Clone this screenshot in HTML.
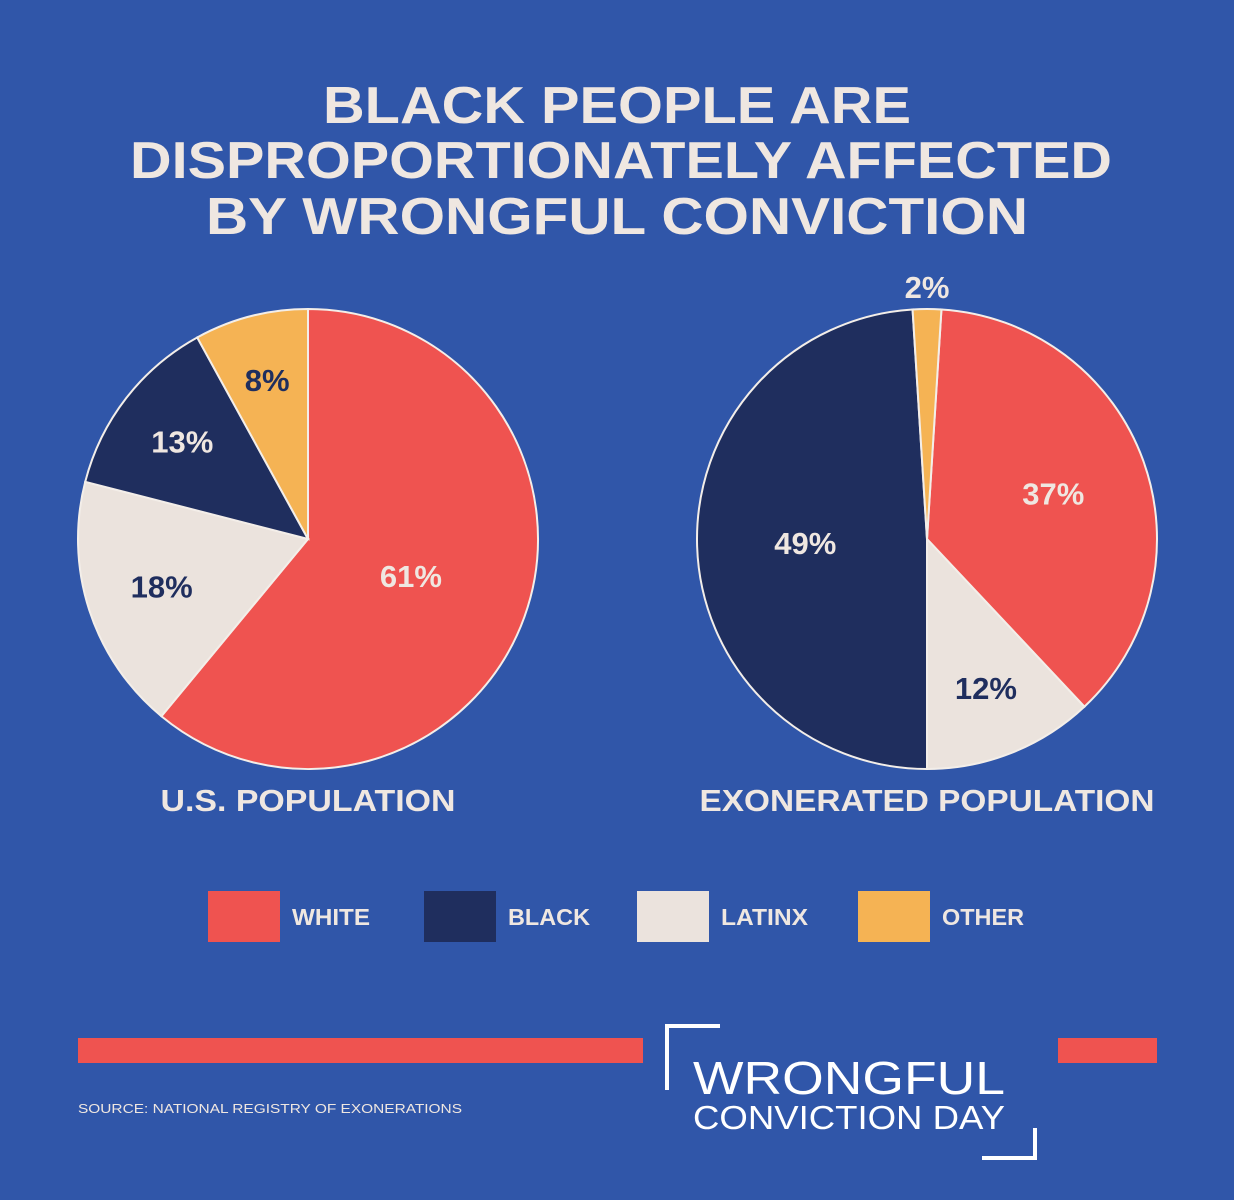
<!DOCTYPE html>
<html><head><meta charset="utf-8"><style>
html,body{margin:0;padding:0;background:#3056a9;}
svg{display:block;font-family:"Liberation Sans",sans-serif;}
</style></head><body>
<svg id="chart" width="1234" height="1200" viewBox="0 0 1234 1200" xmlns="http://www.w3.org/2000/svg">
<rect width="1234" height="1200" fill="#3056a9"/>
<g fill="#efe7e1" font-weight="bold" font-size="52" text-anchor="middle">
<text x="617" y="123" textLength="588" lengthAdjust="spacingAndGlyphs">BLACK PEOPLE ARE</text>
<text x="621" y="178" textLength="982" lengthAdjust="spacingAndGlyphs">DISPROPORTIONATELY AFFECTED</text>
<text x="617" y="234" textLength="822" lengthAdjust="spacingAndGlyphs">BY WRONGFUL CONVICTION</text>
</g>
<g id="pies"></g>
<g font-weight="bold" font-size="23" fill="#efe7e1">
<rect x="208" y="891" width="72" height="51" fill="#ef5350"/>
<text x="292" y="925" textLength="78" lengthAdjust="spacingAndGlyphs">WHITE</text>
<rect x="424" y="891" width="72" height="51" fill="#1f2e5e"/>
<text x="508" y="925" textLength="82" lengthAdjust="spacingAndGlyphs">BLACK</text>
<rect x="637" y="891" width="72" height="51" fill="#ebe3dd"/>
<text x="721" y="925" textLength="87" lengthAdjust="spacingAndGlyphs">LATINX</text>
<rect x="858" y="891" width="72" height="51" fill="#f5b354"/>
<text x="942" y="925" textLength="82" lengthAdjust="spacingAndGlyphs">OTHER</text>
</g>
<rect x="78" y="1038" width="565" height="25" fill="#ef5350"/>
<rect x="1058" y="1038" width="99" height="25" fill="#ef5350"/>
<text x="78" y="1113" font-size="13" fill="#efe7e1" textLength="384" lengthAdjust="spacingAndGlyphs">SOURCE: NATIONAL REGISTRY OF EXONERATIONS</text>
<g fill="#ffffff" stroke="none">
<path d="M667 1090 V1026 H720" fill="none" stroke="#fff" stroke-width="4"/>
<path d="M982 1158 H1035 V1128" fill="none" stroke="#fff" stroke-width="4"/>
<text x="693" y="1094" font-size="46" textLength="312" lengthAdjust="spacingAndGlyphs">WRONGFUL</text>
<text x="693" y="1129" font-size="33" textLength="312" lengthAdjust="spacingAndGlyphs">CONVICTION DAY</text>
</g>
</svg>
<script>
const categories = ["WHITE","LATINX","BLACK","OTHER"];
const colors = {"WHITE":"#ef5350","LATINX":"#ebe3dd","BLACK":"#1f2e5e","OTHER":"#f5b354"};
const labelColors = {"WHITE":"#efe7e1","LATINX":"#1f2e5e","BLACK":"#efe7e1","OTHER":"#1f2e5e"};
const pieTitles = ["U.S. POPULATION","EXONERATED POPULATION"];
const usValues = [61,18,13,8];
const exValues = [37,12,49,2];
const startOffsets = [0,1];
const NS = "http://www.w3.org/2000/svg";
const g = document.getElementById("pies");
const pies = [
 {vals:usValues, cx:308, cy:539, r:230, start:startOffsets[0], title:pieTitles[0], key:"us", tw:295},
 {vals:exValues, cx:927, cy:539, r:230, start:startOffsets[1], title:pieTitles[1], key:"exonerated", tw:455}
];
function pt(cx,cy,r,pct){const a=pct/100*2*Math.PI;return [cx+r*Math.sin(a),cy-r*Math.cos(a)];}
pies.forEach(p=>{
 const grp=document.createElementNS(NS,"g");
 
 
 g.appendChild(grp);
 const total=p.vals.reduce((a,b)=>a+b,0);
 let acc=p.start;
 p.vals.forEach((v,i)=>{
  const s=acc/total*100, e=(acc+v)/total*100; acc+=v;
  const [x1,y1]=pt(p.cx,p.cy,p.r,s),[x2,y2]=pt(p.cx,p.cy,p.r,e);
  const path=document.createElementNS(NS,"path");
  path.setAttribute("d",`M${p.cx},${p.cy} L${x1},${y1} A${p.r},${p.r} 0 ${e-s>50?1:0} 1 ${x2},${y2} Z`);
  path.setAttribute("fill",colors[categories[i]]);
  path.setAttribute("stroke","#f3eee9");path.setAttribute("stroke-width","2");
  
  
  grp.appendChild(path);
  const mid=(s+e)/2;
  let lr = v<5 ? p.r+22 : p.r*(0.75-0.0045*v);
  let [lx,ly]=pt(p.cx,p.cy,lr,mid);
  const t=document.createElementNS(NS,"text");
  t.setAttribute("x",lx);t.setAttribute("y",ly+11);
  t.setAttribute("text-anchor","middle");t.setAttribute("font-size","31");t.setAttribute("font-weight","bold");
  t.setAttribute("fill", v<5 ? "#efe7e1" : labelColors[categories[i]]);
  t.textContent=v+"%";
  
  
  grp.appendChild(t);
 });
 const tt=document.createElementNS(NS,"text");
 tt.setAttribute("x",p.cx);tt.setAttribute("y",811);tt.setAttribute("text-anchor","middle");
 tt.setAttribute("font-size","31");tt.setAttribute("font-weight","bold");tt.setAttribute("fill","#efe7e1");
 tt.setAttribute("textLength",p.tw);tt.setAttribute("lengthAdjust","spacingAndGlyphs");
 tt.textContent=p.title;
 
 
 grp.appendChild(tt);
});
</script>
</body></html>
